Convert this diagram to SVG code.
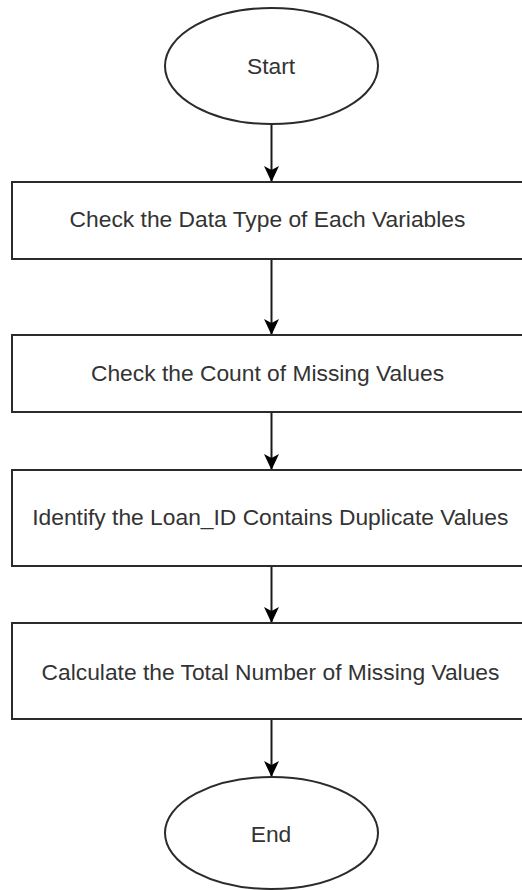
<svg xmlns="http://www.w3.org/2000/svg" width="522" height="890" viewBox="0 0 522 890">
  <style>
    .shape { fill: #ffffff; stroke: #2b2b2b; stroke-width: 2; }
    .label { font-family: "Liberation Sans", Arial, sans-serif; font-size: 22.8px; fill: #333333; text-anchor: middle; }
    .edge { fill: none; stroke: #1a1a1a; stroke-width: 2; }
  </style>
  <defs>
    <!-- block arrowhead, drawn pointing along +x so orient="auto" follows the line -->
    <marker id="arrow" markerUnits="userSpaceOnUse" markerWidth="20" markerHeight="20" viewBox="-18 -10 20 20" refX="0" refY="0" orient="auto">
      <path d="M0,0 L-16,-7.5 L-12,0 L-16,7.5 Z" fill="#000000"/>
    </marker>
  </defs>
  <rect width="522" height="890" fill="#ffffff"/>

  <g id="edges">
    <line class="edge" x1="271.5" y1="124" x2="271.5" y2="182" marker-end="url(#arrow)"/>
    <line class="edge" x1="271.5" y1="259" x2="271.5" y2="335" marker-end="url(#arrow)"/>
    <line class="edge" x1="271.5" y1="412" x2="271.5" y2="470" marker-end="url(#arrow)"/>
    <line class="edge" x1="271.5" y1="566" x2="271.5" y2="623" marker-end="url(#arrow)"/>
    <line class="edge" x1="271.5" y1="719" x2="271.5" y2="777" marker-end="url(#arrow)"/>
  </g>

  <g id="start">
    <ellipse class="shape" cx="271.5" cy="66" rx="106.5" ry="58"/>
    <text class="label" x="271" y="74">Start</text>
  </g>

  <g id="check-data-type">
    <rect class="shape" x="12" y="182" width="514" height="77"/>
    <text class="label" x="267.5" y="227">Check the Data Type of Each Variables</text>
  </g>

  <g id="check-missing-count">
    <rect class="shape" x="12" y="335" width="514" height="77"/>
    <text class="label" x="267.5" y="381">Check the Count of Missing Values</text>
  </g>

  <g id="check-duplicates">
    <rect class="shape" x="12" y="470" width="514" height="96"/>
    <text class="label" x="270.3" y="525">Identify the Loan_ID Contains Duplicate Values</text>
  </g>

  <g id="total-missing">
    <rect class="shape" x="12" y="623" width="514" height="96"/>
    <text class="label" x="270.5" y="680">Calculate the Total Number of Missing Values</text>
  </g>

  <g id="end">
    <ellipse class="shape" cx="271.5" cy="833" rx="106.5" ry="56"/>
    <text class="label" x="271" y="842">End</text>
  </g>
</svg>
